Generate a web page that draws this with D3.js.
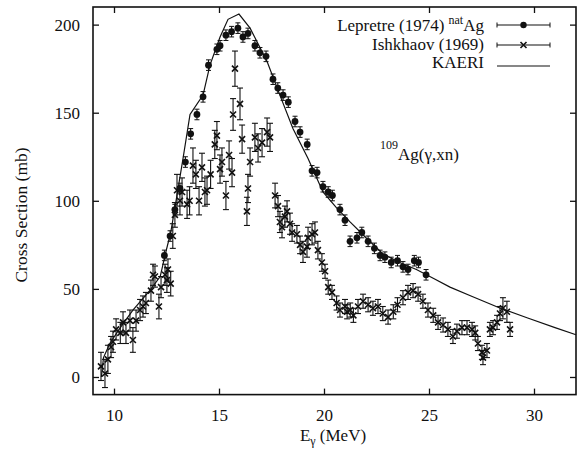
<!DOCTYPE html>
<html><head><meta charset="utf-8">
<script src="https://cdn.jsdelivr.net/npm/d3@7/dist/d3.min.js"></script>
<style>body{margin:0;background:#fff}svg{display:block}text{font-family:"Liberation Serif","DejaVu Serif","Times New Roman",serif;fill:#111}</style>
</head><body><svg id="c" width="577" height="469"></svg>
<script>
const FONT='"Liberation Serif","DejaVu Serif","Times New Roman",serif';
const xTicks=[10,15,20,25,30];
const yTicks=[0,50,100,150,200];
const legendLabels=["Lepretre (1974)","Ishkhaov (1969)","KAERI"];
// KAERI evaluation curve
const kaeriE=[9.4,9.5,9.8,10.3,10.9,11.7,12.2,12.45,12.7,12.9,13.3,13.62,14.24,14.57,15.05,15.43,15.95,16.48,17.29,17.9,18.52,19.24,19.95,20.6,21.24,22.0,22.8,23.6,24.4,25.2,26.0,27.0,28.4,29.7,31,32];
const kaeriS=[0,11,19,28,38,49,57,70,82,96,125,149,160,177,193,203,206,198,179,160,141,124,105,96,88,79,70,65,61,56,51,46,39,33.5,28,24];
// Lepretre (1974) natAg
const lepE=[12.4,12.67,12.9,13.14,13.4,13.65,13.95,14.24,14.5,14.9,15.05,15.33,15.6,15.9,16.14,16.38,16.71,16.95,17.24,17.57,17.8,18.05,18.3,18.62,18.86,19.2,19.43,19.67,19.95,20.2,20.4,20.76,21.0,21.24,21.57,21.8,22.1,22.4,22.67,22.9,23.2,23.5,23.76,24.0,24.3,24.5,24.86];
const lepS=[69,80,95,107,122,138,149,159,177,186,188,194,196,198,193,195,188,184,182,169,164,160,156,145,139,132,117,116,108,105,103,95,89,77,79,82,77,73,69,68,65,66,62.5,61,66,65,58];
const lepErr=[3,3,3,3,3,3,3,3,3,3,3,3,3,3,3,3,3,3,3,3,3,3,3,3,3,3,3,3,3,3,3,3,3,3,3,3,3,3,3,3,3,3,3,3,3,3,3];
// Ishkhaov (1969)
const ishE=[9.38,9.57,9.71,9.86,9.95,10.1,10.3,10.43,10.57,10.76,10.9,11.05,11.24,11.38,11.52,11.76,11.86,11.95,12.14,12.24,12.43,12.52,12.57,12.7,12.8,12.9,13.0,13.14,13.24,13.48,13.6,13.76,13.9,14.05,14.19,14.33,14.43,14.6,14.8,14.9,15.05,15.14,15.33,15.48,15.62,15.67,15.76,16.0,16.1,16.33,16.38,16.48,16.71,16.86,17.05,17.29,17.43,17.67,17.81,17.9,18.0,18.14,18.24,18.38,18.48,18.71,18.86,19.0,19.19,19.24,19.43,19.57,19.71,19.9,20.05,20.2,20.38,20.6,20.76,21.0,21.1,21.25,21.4,21.62,21.86,22.1,22.33,22.57,22.8,23.05,23.3,23.5,23.76,24.0,24.24,24.48,24.71,24.95,25.2,25.43,25.67,25.9,26.14,26.33,26.57,26.81,27.05,27.2,27.33,27.52,27.57,27.76,27.9,28.05,28.24,28.38,28.52,28.71,28.86];
const ishS=[6,2,10,17,20,27,25,31,25,32,21,32,38,40,42,49,58,57,40,51,58,55,61,53,80,92,106,100,105,98,100,120,115,100,119,105,106,115,132,137,118,122,103,126,116,149,175,155,135,94,107,122,136,130,133,139,136,103,97,88,85,91,94,87,82,81,75,71,74,79,81,82,72,65,60,51,48,42,38,40,37,38,35,40,43,41,39,40,36,34,37,41,45,48,49,47,43,38,35,31,29.5,27,23,26,28,28,27,25,19,14,11,15,27,28,31,36,39,37,27];
const ishErr=[8,8,8,6,6,6,6,6,6,6,7,6,6,6,6,6,6,6,7,6,6,7,6,7,7,7,9,8,8,8,8,10,8,8,8,8,8,8,8,8,8,8,8,8,8,9,10,9,8,8,8,8,8,8,8,8,8,7,6,6,6,6,6,6,5,5,5,6,6,6,6,6,5,5,4,4,4,4,4,4,4,4,4,4,4,4,4,4,4,4,4,4,4,4,4,4,4,4,4,4,4,4,4,4,4,4,4,4,4,4,4,4,4,4,4,4,6,6,4];

const svg=d3.select("#c");
const L=93,R=576,T=7,B=394.6;
const x=d3.scaleLinear().domain([9,32]).range([L,R]);
const y=d3.scaleLinear().domain([-10,210]).range([B,T]);

// axes with inward ticks
const gx=svg.append("g").attr("transform",`translate(0,${B})`).call(d3.axisBottom(x).tickValues(xTicks).tickSizeInner(-6).tickSizeOuter(0).tickPadding(14).tickFormat(d3.format("d")));
const gxt=svg.append("g").attr("transform",`translate(0,${T})`).call(d3.axisTop(x).tickValues(xTicks).tickSizeInner(-6).tickSizeOuter(0).tickFormat(""));
const gy=svg.append("g").attr("transform",`translate(${L},0)`).call(d3.axisLeft(y).tickValues(yTicks).tickSizeInner(-6).tickSizeOuter(0).tickPadding(13).tickFormat(d3.format("d")));
const gyr=svg.append("g").attr("transform",`translate(${R},0)`).call(d3.axisRight(y).tickValues(yTicks).tickSizeInner(-6).tickSizeOuter(0).tickFormat(""));
[gx,gxt,gy,gyr].forEach(g=>{g.attr("font-family",FONT).attr("font-size",17);g.select(".domain").remove();g.selectAll("line").attr("stroke","#111").attr("stroke-width",1.3);g.selectAll("text").attr("font-size",17).attr("font-family",FONT).attr("fill","#111");});

svg.append("rect").attr("x",L).attr("y",T).attr("width",R-L).attr("height",B-T).attr("fill","none").attr("stroke","#111").attr("stroke-width",1.6);

const plot=svg.append("g");
// KAERI line
const kaeri=kaeriE.map((e,i)=>[e,kaeriS[i]]);
plot.append("path").datum(kaeri).attr("fill","none").attr("stroke","#111").attr("stroke-width",1.2)
 .attr("d",d3.line().x(d=>x(d[0])).y(d=>y(d[1])));

// Ishkhaov
const ish=ishE.map((e,i)=>({e,s:ishS[i],er:ishErr[i]}));
const gi=plot.append("g").attr("stroke","#111").attr("stroke-width",1.1);
ish.forEach(d=>{
  const cx=x(d.e),y1=y(d.s+d.er),y2=y(d.s-d.er),cy=y(d.s);
  gi.append("line").attr("x1",cx).attr("x2",cx).attr("y1",y1).attr("y2",y2);
  gi.append("line").attr("x1",cx-3).attr("x2",cx+3).attr("y1",y1).attr("y2",y1);
  gi.append("line").attr("x1",cx-3).attr("x2",cx+3).attr("y1",y2).attr("y2",y2);
  gi.append("path").attr("d",`M${cx-3},${cy-3}L${cx+3},${cy+3}M${cx-3},${cy+3}L${cx+3},${cy-3}`).attr("stroke-width",1.6);
});
// Lepretre
const lep=lepE.map((e,i)=>({e,s:lepS[i],er:lepErr[i]}));
const gl=plot.append("g");
lep.forEach(d=>{
  const cx=x(d.e),y1=y(d.s+d.er),y2=y(d.s-d.er);
  gl.append("line").attr("x1",cx).attr("x2",cx).attr("y1",y1).attr("y2",y2).attr("stroke","#111").attr("stroke-width",1.1);
  gl.append("line").attr("x1",cx-2.5).attr("x2",cx+2.5).attr("y1",y1).attr("y2",y1).attr("stroke","#111");
  gl.append("line").attr("x1",cx-2.5).attr("x2",cx+2.5).attr("y1",y2).attr("y2",y2).attr("stroke","#111");
  gl.append("circle").attr("cx",cx).attr("cy",y(d.s)).attr("r",3.4).attr("fill","#111");
});

// Legend
const lg=svg.append("g").attr("font-family",FONT);
const ly=[25,45,66], tx=484, s1=497, s2=550, sm=(s1+s2)/2;
const t0=lg.append("text").attr("x",tx).attr("y",ly[0]+6).attr("text-anchor","end").attr("font-size",17);
t0.append("tspan").text(legendLabels[0]+" ");
t0.append("tspan").attr("font-size",12).attr("dy",-7).text("nat");
t0.append("tspan").attr("dy",7).text("Ag");
lg.append("text").attr("x",tx).attr("y",ly[1]+5).attr("text-anchor","end").attr("font-size",17).text(legendLabels[1]);
lg.append("text").attr("x",tx).attr("y",ly[2]+2).attr("text-anchor","end").attr("font-size",17).text(legendLabels[2]);
[0,1].forEach(i=>{
  lg.append("line").attr("x1",s1).attr("x2",s2).attr("y1",ly[i]).attr("y2",ly[i]).attr("stroke","#111").attr("stroke-width",1.1);
  lg.append("line").attr("x1",s1).attr("x2",s1).attr("y1",ly[i]-2.5).attr("y2",ly[i]+2.5).attr("stroke","#111");
  lg.append("line").attr("x1",s2).attr("x2",s2).attr("y1",ly[i]-2.5).attr("y2",ly[i]+2.5).attr("stroke","#111");
});
lg.append("circle").attr("cx",sm).attr("cy",ly[0]).attr("r",3.2).attr("fill","#111");
lg.append("path").attr("d",`M${sm-3},${ly[1]-3}L${sm+3},${ly[1]+3}M${sm-3},${ly[1]+3}L${sm+3},${ly[1]-3}`).attr("stroke","#111").attr("stroke-width",1.6);
lg.append("line").attr("x1",s1).attr("x2",s2).attr("y1",ly[2]).attr("y2",ly[2]).attr("stroke","#111").attr("stroke-width",1.1);

// Reaction annotation
const an=svg.append("text").attr("x",380).attr("y",160).attr("font-size",17).attr("font-family",FONT);
an.append("tspan").attr("font-size",12).attr("dy",-11).text("109");
an.append("tspan").attr("dy",11).text("Ag(γ,xn)");

// Axis titles
svg.append("text").attr("transform","translate(27,215) rotate(-90)").attr("text-anchor","middle").attr("font-size",17.5).attr("font-family",FONT).text("Cross Section (mb)");
const xt=svg.append("text").attr("x",333).attr("y",441).attr("text-anchor","middle").attr("font-size",17).attr("font-family",FONT);
xt.append("tspan").text("E");
xt.append("tspan").attr("font-size",12).attr("dy",4).text("γ");
xt.append("tspan").attr("dy",-4).text(" (MeV)");
</script></body></html>
